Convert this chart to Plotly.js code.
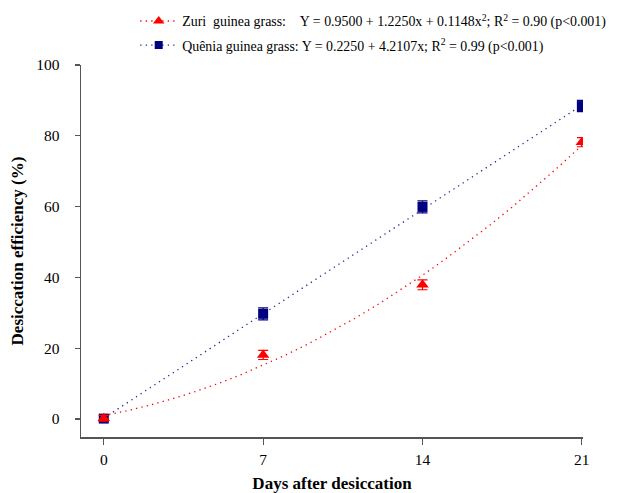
<!DOCTYPE html>
<html>
<head>
<meta charset="utf-8">
<script src="https://cdn.plot.ly/plotly-3.0.1.min.js"></script>
<style>html,body{margin:0;padding:0;background:#fff;}#chart{width:619px;height:493px;}</style>
</head>
<body>
<div id="chart"></div>
<script>
// Data
const days = [0, 7, 14, 21];
const zuriValues = [0.2, 18.1, 37.9, 78.2];
const zuriErrors = [0.8, 1.3, 1.4, 1.3];
const queniaValues = [0.1, 29.7, 59.9, 88.4];
const queniaErrors = [0.8, 1.7, 1.7, 1.6];
// Regression coefficients printed in the legend
const zuriCoef = [0.9500, 1.2250, 0.1148];
const queniaCoef = [0.2250, 4.2107];
const fitDays = [0,1,2,3,4,5,6,7,8,9,10,11,12,13,14,15,16,17,18,19,20,21];
const xTicks = [0, 7, 14, 21];
const yTicks = [0, 20, 40, 60, 80, 100];
const zuriLabel = "Zuri\u00A0\u00A0guinea grass:\u00A0\u00A0\u00A0\u00A0Y = 0.9500 + 1.2250x + 0.1148x<sup>2</sup>; R<sup>2</sup> = 0.90 (p<0.001)";
const queniaLabel = "Quênia guinea grass: Y = 0.2250 + 4.2107x; R<sup>2</sup> = 0.99 (p<0.001)";

const zuriFit = fitDays.map(d => zuriCoef[0] + zuriCoef[1]*d + zuriCoef[2]*d*d);
const queniaFit = fitDays.map(d => queniaCoef[0] + queniaCoef[1]*d);

const red = '#ff0000';
const navy = '#000080';
const blueDots = '#2a2a9a';
const font = 'Liberation Serif';
const dotDash = '1.3px,4.2px';

const traces = [
  {x: fitDays, y: queniaFit, mode: 'lines', line: {color: blueDots, dash: dotDash, width: 1.3}, showlegend: false, hoverinfo: 'skip'},
  {x: fitDays, y: zuriFit, mode: 'lines', line: {color: red, dash: dotDash, width: 1.3}, showlegend: false, hoverinfo: 'skip'},
  {x: days, y: queniaValues, mode: 'markers', marker: {symbol: 'square', size: 10, color: navy},
   error_y: {type: 'data', array: queniaErrors, visible: true, color: navy, thickness: 1.2, width: 5}, showlegend: false},
  {x: days, y: zuriValues, mode: 'markers', marker: {symbol: 'triangle-up', size: 11, color: red},
   error_y: {type: 'data', array: zuriErrors, visible: true, color: red, thickness: 1.2, width: 5}, showlegend: false},
  {x: [null], y: [null], mode: 'lines+markers', name: zuriLabel, legendgroup: 'a',
   line: {color: red, dash: dotDash, width: 1.3}, marker: {symbol: 'triangle-up', size: 10, color: red}},
  {x: [null], y: [null], mode: 'lines+markers', name: queniaLabel, legendgroup: 'b',
   line: {color: blueDots, dash: dotDash, width: 1.3}, marker: {symbol: 'square', size: 8, color: navy}}
];

const layout = {
  width: 619, height: 493,
  margin: {l: 81, r: 36, t: 65, b: 56, autoexpand: false},
  paper_bgcolor: '#fff', plot_bgcolor: '#fff',
  font: {family: font, size: 14, color: '#000'},
  showlegend: true,
  legend: {x: 0.108, xanchor: 'left', y: 1.16, yanchor: 'top', bgcolor: 'rgba(0,0,0,0)',
    font: {family: font, size: 13.9, color: '#000'}, traceorder: 'grouped', tracegroupgap: 3, itemwidth: 37},
  xaxis: {range: [-1, 21.05], tickvals: xTicks, ticktext: xTicks.map(String), showgrid: false, zeroline: false,
    showline: true, linecolor: '#555', linewidth: 1.5, ticks: 'outside', ticklen: 6, tickcolor: '#555', tickwidth: 1.2,
    tickfont: {family: font, size: 15.5}, automargin: false, ticklabelstandoff: 2,
    title: {text: '<b>Days after desiccation</b>', font: {family: font, size: 17}, standoff: 16}},
  yaxis: {range: [-5.1, 100], tickvals: yTicks, ticktext: yTicks.map(String), showgrid: false, zeroline: false,
    showline: true, linecolor: '#555', linewidth: 1.5, ticks: 'outside', ticklen: 5, tickcolor: '#555', tickwidth: 1.2,
    tickfont: {family: font, size: 15.5}, automargin: false, ticklabelstandoff: 12,
    title: {text: '<b>Desiccation efficiency (%)</b>', font: {family: font, size: 17}, standoff: 8}}
};

Plotly.newPlot('chart', traces, layout, {displayModeBar: false, staticPlot: true});
</script>
</body>
</html>
